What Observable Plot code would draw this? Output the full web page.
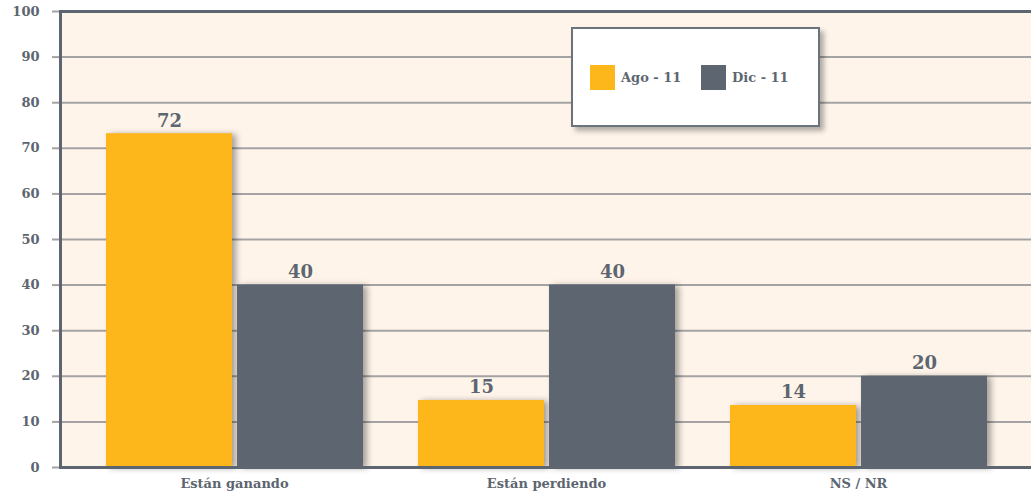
<!DOCTYPE html>
<html><head><meta charset="utf-8">
<script src="https://cdn.jsdelivr.net/npm/d3@7"></script>
<script src="https://cdn.jsdelivr.net/npm/@observablehq/plot@0.6"></script>
<style>
body{margin:0;background:#fff;}
#wrap{position:relative;width:1031px;height:491px;font-family:"DejaVu Serif",serif;font-weight:bold;color:#5d6670;}
#wrap svg{position:absolute;left:0;top:0;}
#wrap svg g[aria-label="bar"] rect{filter:drop-shadow(4px 1px 3px rgba(0,0,0,0.35));}
#legend{position:absolute;left:571px;top:27px;width:245px;height:96px;background:#fff;border:2px solid #6b747c;box-shadow:4px 4px 5px rgba(0,0,0,0.3);}
.item{position:absolute;top:36px;height:25px;display:flex;align-items:center;font-size:13px;}
.sw{width:25px;height:25px;margin-right:6px;}
</style></head><body><div id="wrap"></div>
<script>
const categories = ["Están ganando", "Están perdiendo", "NS / NR"];
const series = ["Ago - 11", "Dic - 11"];
const agoValues = [73.2, 14.7, 13.6];
const dicValues = [40, 40, 20];
const agoLabels = ["72", "15", "14"];
const dicLabels = ["40", "40", "20"];
const yTicks = [0, 10, 20, 30, 40, 50, 60, 70, 80, 90, 100];
const colors = ["#FDB71A", "#5D6670"];

const data = categories.flatMap((c, i) => [
  {cat: c, s: series[0], v: agoValues[i], label: agoLabels[i]},
  {cat: c, s: series[1], v: dicValues[i], label: dicLabels[i]}
]);

const common = {
  width: 1031, height: 491,
  marginLeft: 60, marginRight: 0, marginTop: 11, marginBottom: 24,
  style: {fontFamily: "DejaVu Serif", fontWeight: "bold", color: "#5d6670", background: "transparent", overflow: "visible"}
};

// background layer: plot area, grid, y axis, borders
const back = Plot.plot({
  ...common,
  y: {domain: [0, 100], label: null},
  marks: [
    Plot.frame({fill: "#fef4ea", stroke: null}),
    Plot.ruleY(yTicks.filter(d => d > 0 && d < 100), {stroke: "#a3a3a3", strokeWidth: 2}),
    Plot.axisY({ticks: yTicks, tickSize: 8, tickPadding: 13, stroke: "#a3a3a3", strokeWidth: 2, fill: "#5d6670", fontSize: 13, fontWeight: "bold", label: null}),
    Plot.ruleY([100], {stroke: "#5d6670", strokeWidth: 3}),
    Plot.frame({anchor: "left", stroke: "#5d6670", strokeWidth: 3})
  ]
});

// bars layer
const front = Plot.plot({
  ...common,
  fx: {domain: categories, paddingInner: 0, paddingOuter: 0.0536, label: null},
  x: {domain: series, paddingInner: 0.04, paddingOuter: 0.21, axis: null},
  y: {domain: [0, 100], axis: null},
  color: {domain: series, range: colors},
  marks: [
    Plot.axisFx({anchor: "bottom", tickSize: 0, tickPadding: 11, fontSize: 13, fontWeight: "bold", fill: "#5d6670", label: null}),
    Plot.barY(data, {fx: "cat", x: "s", y: "v", fill: "s"}),
    Plot.text(data, {fx: "cat", x: "s", y: "v", text: "label", lineAnchor: "bottom", dy: -7, fontSize: 18, fontWeight: "bold", fill: "#5d6670"})
  ]
});

// baseline layer on top
const base = Plot.plot({
  ...common,
  y: {domain: [0, 100], axis: null},
  marks: [Plot.ruleY([0], {stroke: "#5d6670", strokeWidth: 3})]
});

const wrap = document.getElementById("wrap");
wrap.appendChild(back);
wrap.appendChild(front);
wrap.appendChild(base);

const legend = document.createElement("div");
legend.id = "legend";
const lefts = [17, 128];
series.forEach((s, i) => {
  const it = document.createElement("div");
  it.className = "item";
  it.style.left = lefts[i] + "px";
  const sw = document.createElement("div");
  sw.className = "sw";
  sw.style.background = colors[i];
  it.appendChild(sw);
  it.appendChild(document.createTextNode(s));
  legend.appendChild(it);
});
wrap.appendChild(legend);
</script></body></html>
